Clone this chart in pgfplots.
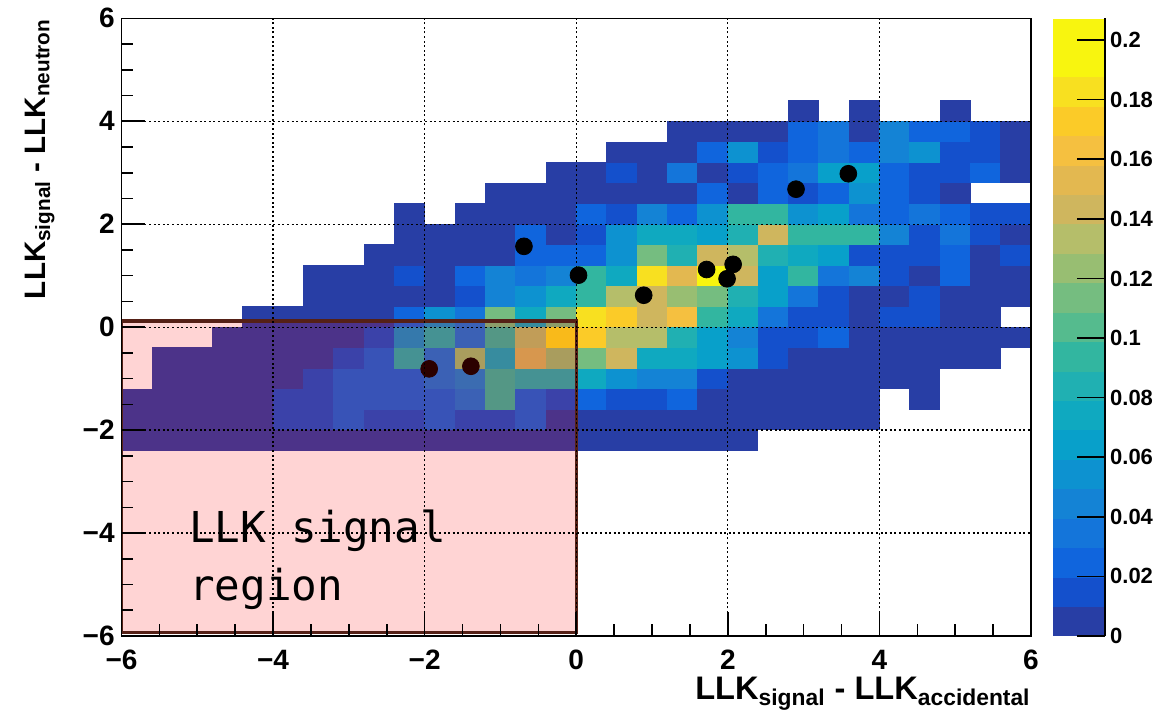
\documentclass[border=0pt]{standalone}
\usepackage{fontspec}
\setmainfont{Liberation Sans}
\newfontfamily\monofont{DejaVu Sans Mono}
\usepackage{pgfplots}
\pgfplotsset{compat=1.18}
\pgfdeclareplotmark{cell}{\pgfpathrectangle{\pgfpoint{-7.73pt}{-5.30pt}}{\pgfpoint{15.46pt}{10.60pt}}\pgfusepathqfill}
\definecolor{boxedge}{RGB}{85,32,22}
\begin{document}
\begin{tikzpicture}
\begin{axis}[
  scale only axis, width=454.75pt, height=308.85pt,
  at={(0,0)}, anchor=south west,
  xmin=-6, xmax=6, ymin=-6, ymax=6,
  clip marker paths=true,
  xtick={-6,-4,-2,0,2,4,6}, ytick={-6,-4,-2,0,2,4,6},
  xticklabels={−6,−4,−2,0,2,4,6}, yticklabels={−6,−4,−2,0,2,4,6},
  minor x tick num=3, minor y tick num=3,
  tick align=inside, tick pos=left,
  major tick length=12pt, minor tick length=6pt,
  tick style={black, line width=0.8pt},
  axis line style={black, line width=0.8pt},
  grid=major,
  major grid style={black, line width=0.6pt, dash pattern=on 1pt off 1.3pt},
  axis on top,
  tick label style={font=\bfseries\fontsize{14}{16}\selectfont, inner sep=0pt},
  xticklabel style={yshift=-7pt},
  yticklabel style={xshift=-3.25pt},
  xlabel={\bfseries\fontsize{16.3}{18}\selectfont LLK\textsubscript{signal} - LLK\textsubscript{accidental}},
  xlabel style={at={(axis description cs:1,0)}, anchor=base east, yshift=-32pt, inner sep=0pt},
  ylabel={\bfseries\fontsize{14.8}{17}\selectfont LLK\textsubscript{signal} - LLK\textsubscript{neutron}},
  ylabel style={at={(axis description cs:-0.0841,1)}, anchor=base east, inner sep=0pt},
  colormap={rootbird}{rgb255=(40,62,165) rgb255=(20,80,204) rgb255=(16,101,221) rgb255=(20,117,218) rgb255=(20,131,213) rgb255=(13,146,208) rgb255=(8,160,202) rgb255=(15,169,192) rgb255=(32,176,178) rgb255=(50,182,160) rgb255=(85,187,142) rgb255=(117,189,128) rgb255=(152,190,114) rgb255=(181,190,106) rgb255=(207,182,94) rgb255=(227,184,80) rgb255=(245,192,64) rgb255=(251,203,40) rgb255=(248,224,32) rgb255=(248,245,15) rgb255=(248,245,15)},
  colormap access=piecewise constant,
  point meta min=0, point meta max=0.2073,
  colorbar right,
  colorbar style={
    at={(parent axis.north east)}, anchor=north west, xshift=2.5pt,
    scale only axis, width=25.85pt, height=308.85pt,
    ytick={0,0.02,0.04,0.06,0.08,0.1,0.12,0.14,0.16,0.18,0.2},
    yticklabels={0,0.02,0.04,0.06,0.08,0.1,0.12,0.14,0.16,0.18,0.2},
    ytick pos=right, yticklabel pos=right, tick align=inside,
    major tick length=13.85pt, minor y tick num=0, grid=none,
    ytick style={black, line width=0.8pt},
    yticklabel style={font=\bfseries\fontsize{11}{13}\selectfont, inner sep=0pt, xshift=2.5pt, anchor=west},
    axis line style={draw=none},
    after end axis/.code={\draw[black, line width=0.8pt] (rel axis cs:1,0) -- (rel axis cs:1,1);},
  },
]
\addplot[scatter, only marks, mark=cell, point meta=explicit,
  scatter/use mapped color={draw=none, fill=mapped color}] coordinates {
(-5.8,-2.2)[0.005] (-5.4,-2.2)[0.005] (-5.0,-2.2)[0.005] (-4.6,-2.2)[0.005] (-4.2,-2.2)[0.005] (-3.8,-2.2)[0.005] (-3.4,-2.2)[0.005] (-3.0,-2.2)[0.005] (-2.6,-2.2)[0.005] (-2.2,-2.2)[0.005] (-1.8,-2.2)[0.005] (-1.4,-2.2)[0.005] (-1.0,-2.2)[0.005] (-0.6,-2.2)[0.005] (-0.2,-2.2)[0.005] (0.2,-2.2)[0.005] (0.6,-2.2)[0.005] (1.0,-2.2)[0.005] (1.4,-2.2)[0.005] (1.8,-2.2)[0.005] (2.2,-2.2)[0.005]
(-5.8,-1.8)[0.005] (-5.4,-1.8)[0.005] (-5.0,-1.8)[0.005] (-4.6,-1.8)[0.005] (-4.2,-1.8)[0.005] (-3.8,-1.8)[0.016] (-3.4,-1.8)[0.016] (-3.0,-1.8)[0.026] (-2.6,-1.8)[0.016] (-2.2,-1.8)[0.016] (-1.8,-1.8)[0.026] (-1.4,-1.8)[0.016] (-1.0,-1.8)[0.016] (-0.6,-1.8)[0.026] (-0.2,-1.8)[0.005] (0.2,-1.8)[0.005] (0.6,-1.8)[0.005] (1.0,-1.8)[0.005] (1.4,-1.8)[0.005] (1.8,-1.8)[0.005] (2.2,-1.8)[0.005] (2.6,-1.8)[0.005] (3.0,-1.8)[0.005] (3.4,-1.8)[0.005] (3.8,-1.8)[0.005]
(-5.8,-1.4)[0.005] (-5.4,-1.4)[0.005] (-5.0,-1.4)[0.005] (-4.6,-1.4)[0.005] (-4.2,-1.4)[0.005] (-3.8,-1.4)[0.016] (-3.4,-1.4)[0.016] (-3.0,-1.4)[0.026] (-2.6,-1.4)[0.026] (-2.2,-1.4)[0.026] (-1.8,-1.4)[0.026] (-1.4,-1.4)[0.036] (-1.0,-1.4)[0.098] (-0.6,-1.4)[0.026] (-0.2,-1.4)[0.016] (0.2,-1.4)[0.026] (0.6,-1.4)[0.016] (1.0,-1.4)[0.016] (1.4,-1.4)[0.026] (1.8,-1.4)[0.005] (2.2,-1.4)[0.005] (2.6,-1.4)[0.005] (3.0,-1.4)[0.005] (3.4,-1.4)[0.005] (3.8,-1.4)[0.005] (4.6,-1.4)[0.005]
(-5.4,-1.0)[0.005] (-5.0,-1.0)[0.005] (-4.6,-1.0)[0.005] (-4.2,-1.0)[0.005] (-3.8,-1.0)[0.005] (-3.4,-1.0)[0.016] (-3.0,-1.0)[0.026] (-2.6,-1.0)[0.026] (-2.2,-1.0)[0.026] (-1.8,-1.0)[0.036] (-1.4,-1.0)[0.047] (-1.0,-1.0)[0.098] (-0.6,-1.0)[0.088] (-0.2,-1.0)[0.088] (0.2,-1.0)[0.078] (0.6,-1.0)[0.057] (1.0,-1.0)[0.047] (1.4,-1.0)[0.047] (1.8,-1.0)[0.016] (2.2,-1.0)[0.005] (2.6,-1.0)[0.005] (3.0,-1.0)[0.005] (3.4,-1.0)[0.005] (3.8,-1.0)[0.005] (4.2,-1.0)[0.005] (4.6,-1.0)[0.005]
(-5.4,-0.6)[0.005] (-5.0,-0.6)[0.005] (-4.6,-0.6)[0.005] (-4.2,-0.6)[0.005] (-3.8,-0.6)[0.005] (-3.4,-0.6)[0.005] (-3.0,-0.6)[0.016] (-2.6,-0.6)[0.026] (-2.2,-0.6)[0.088] (-1.8,-0.6)[0.036] (-1.4,-0.6)[0.119] (-1.0,-0.6)[0.078] (-0.6,-0.6)[0.140] (-0.2,-0.6)[0.119] (0.2,-0.6)[0.109] (0.6,-0.6)[0.140] (1.0,-0.6)[0.078] (1.4,-0.6)[0.078] (1.8,-0.6)[0.067] (2.2,-0.6)[0.057] (2.6,-0.6)[0.016] (3.0,-0.6)[0.005] (3.4,-0.6)[0.005] (3.8,-0.6)[0.005] (4.2,-0.6)[0.005] (4.6,-0.6)[0.005] (5.0,-0.6)[0.005] (5.4,-0.6)[0.005]
(-4.6,-0.2)[0.005] (-4.2,-0.2)[0.005] (-3.8,-0.2)[0.005] (-3.4,-0.2)[0.005] (-3.0,-0.2)[0.005] (-2.6,-0.2)[0.016] (-2.2,-0.2)[0.057] (-1.8,-0.2)[0.088] (-1.4,-0.2)[0.036] (-1.0,-0.2)[0.098] (-0.6,-0.2)[0.130] (-0.2,-0.2)[0.181] (0.2,-0.2)[0.171] (0.6,-0.2)[0.130] (1.0,-0.2)[0.130] (1.4,-0.2)[0.088] (1.8,-0.2)[0.067] (2.2,-0.2)[0.047] (2.6,-0.2)[0.016] (3.0,-0.2)[0.016] (3.4,-0.2)[0.026] (3.8,-0.2)[0.005] (4.2,-0.2)[0.005] (4.6,-0.2)[0.005] (5.0,-0.2)[0.005] (5.4,-0.2)[0.005] (5.8,-0.2)[0.005]
(-4.2,0.2)[0.005] (-3.8,0.2)[0.005] (-3.4,0.2)[0.005] (-3.0,0.2)[0.005] (-2.6,0.2)[0.005] (-2.2,0.2)[0.026] (-1.8,0.2)[0.057] (-1.4,0.2)[0.036] (-1.0,0.2)[0.109] (-0.6,0.2)[0.078] (-0.2,0.2)[0.109] (0.2,0.2)[0.181] (0.6,0.2)[0.171] (1.0,0.2)[0.140] (1.4,0.2)[0.161] (1.8,0.2)[0.098] (2.2,0.2)[0.078] (2.6,0.2)[0.036] (3.0,0.2)[0.016] (3.4,0.2)[0.016] (3.8,0.2)[0.005] (4.2,0.2)[0.016] (4.6,0.2)[0.016] (5.0,0.2)[0.005] (5.4,0.2)[0.005]
(-3.4,0.6)[0.005] (-3.0,0.6)[0.005] (-2.6,0.6)[0.005] (-2.2,0.6)[0.005] (-1.8,0.6)[0.005] (-1.4,0.6)[0.016] (-1.0,0.6)[0.047] (-0.6,0.6)[0.057] (-0.2,0.6)[0.078] (0.2,0.6)[0.098] (0.6,0.6)[0.130] (1.0,0.6)[0.140] (1.4,0.6)[0.119] (1.8,0.6)[0.109] (2.2,0.6)[0.088] (2.6,0.6)[0.067] (3.0,0.6)[0.036] (3.4,0.6)[0.016] (3.8,0.6)[0.005] (4.2,0.6)[0.005] (4.6,0.6)[0.016] (5.0,0.6)[0.005] (5.4,0.6)[0.005] (5.8,0.6)[0.005]
(-3.4,1.0)[0.005] (-3.0,1.0)[0.005] (-2.6,1.0)[0.005] (-2.2,1.0)[0.016] (-1.8,1.0)[0.005] (-1.4,1.0)[0.026] (-1.0,1.0)[0.047] (-0.6,1.0)[0.036] (-0.2,1.0)[0.047] (0.2,1.0)[0.098] (0.6,1.0)[0.078] (1.0,1.0)[0.181] (1.4,1.0)[0.150] (1.8,1.0)[0.202] (2.2,1.0)[0.140] (2.6,1.0)[0.067] (3.0,1.0)[0.098] (3.4,1.0)[0.036] (3.8,1.0)[0.047] (4.2,1.0)[0.016] (4.6,1.0)[0.005] (5.0,1.0)[0.026] (5.4,1.0)[0.005] (5.8,1.0)[0.005]
(-2.6,1.4)[0.005] (-2.2,1.4)[0.005] (-1.8,1.4)[0.005] (-1.4,1.4)[0.005] (-1.0,1.4)[0.005] (-0.6,1.4)[0.026] (-0.2,1.4)[0.026] (0.2,1.4)[0.026] (0.6,1.4)[0.057] (1.0,1.4)[0.109] (1.4,1.4)[0.088] (1.8,1.4)[0.140] (2.2,1.4)[0.130] (2.6,1.4)[0.088] (3.0,1.4)[0.078] (3.4,1.4)[0.067] (3.8,1.4)[0.016] (4.2,1.4)[0.016] (4.6,1.4)[0.016] (5.0,1.4)[0.026] (5.4,1.4)[0.005] (5.8,1.4)[0.016]
(-2.2,1.8)[0.005] (-1.8,1.8)[0.005] (-1.4,1.8)[0.005] (-1.0,1.8)[0.005] (-0.6,1.8)[0.026] (-0.2,1.8)[0.005] (0.2,1.8)[0.016] (0.6,1.8)[0.057] (1.0,1.8)[0.078] (1.4,1.8)[0.078] (1.8,1.8)[0.067] (2.2,1.8)[0.088] (2.6,1.8)[0.140] (3.0,1.8)[0.098] (3.4,1.8)[0.098] (3.8,1.8)[0.098] (4.2,1.8)[0.047] (4.6,1.8)[0.016] (5.0,1.8)[0.036] (5.4,1.8)[0.016] (5.8,1.8)[0.005]
(-2.2,2.2)[0.005] (-1.4,2.2)[0.005] (-1.0,2.2)[0.005] (-0.6,2.2)[0.005] (-0.2,2.2)[0.005] (0.2,2.2)[0.026] (0.6,2.2)[0.016] (1.0,2.2)[0.047] (1.4,2.2)[0.026] (1.8,2.2)[0.057] (2.2,2.2)[0.098] (2.6,2.2)[0.098] (3.0,2.2)[0.057] (3.4,2.2)[0.067] (3.8,2.2)[0.036] (4.2,2.2)[0.026] (4.6,2.2)[0.036] (5.0,2.2)[0.026] (5.4,2.2)[0.016] (5.8,2.2)[0.016]
(-1.0,2.6)[0.005] (-0.6,2.6)[0.005] (-0.2,2.6)[0.005] (0.2,2.6)[0.005] (0.6,2.6)[0.005] (1.0,2.6)[0.005] (1.4,2.6)[0.005] (1.8,2.6)[0.026] (2.2,2.6)[0.005] (2.6,2.6)[0.026] (3.0,2.6)[0.016] (3.4,2.6)[0.026] (3.8,2.6)[0.057] (4.2,2.6)[0.026] (4.6,2.6)[0.016] (5.0,2.6)[0.005]
(-0.2,3.0)[0.005] (0.2,3.0)[0.005] (0.6,3.0)[0.016] (1.0,3.0)[0.005] (1.4,3.0)[0.036] (1.8,3.0)[0.005] (2.2,3.0)[0.016] (2.6,3.0)[0.026] (3.0,3.0)[0.036] (3.4,3.0)[0.067] (3.8,3.0)[0.067] (4.2,3.0)[0.026] (4.6,3.0)[0.016] (5.0,3.0)[0.016] (5.4,3.0)[0.026] (5.8,3.0)[0.005]
(0.6,3.4)[0.005] (1.0,3.4)[0.005] (1.4,3.4)[0.005] (1.8,3.4)[0.026] (2.2,3.4)[0.057] (2.6,3.4)[0.016] (3.0,3.4)[0.026] (3.4,3.4)[0.036] (3.8,3.4)[0.026] (4.2,3.4)[0.047] (4.6,3.4)[0.057] (5.0,3.4)[0.016] (5.4,3.4)[0.016] (5.8,3.4)[0.005]
(1.4,3.8)[0.005] (1.8,3.8)[0.005] (2.2,3.8)[0.005] (2.6,3.8)[0.005] (3.0,3.8)[0.026] (3.4,3.8)[0.036] (3.8,3.8)[0.005] (4.2,3.8)[0.047] (4.6,3.8)[0.026] (5.0,3.8)[0.026] (5.4,3.8)[0.016] (5.8,3.8)[0.005]
(3.0,4.2)[0.005] (3.8,4.2)[0.005] (5.0,4.2)[0.005]
};
\addplot[only marks, mark=*, mark size=4.2pt, black] coordinates {
(-1.94,-0.81) (-1.39,-0.76) (-0.69,1.57) (0.03,1.01) (0.89,0.62) (1.72,1.12) (1.99,0.94) (2.07,1.22) (2.90,2.68) (3.59,2.98)
};
\fill[red, fill opacity=0.17] (axis cs:-6,-5.93) rectangle (axis cs:0,0.12);
\draw[boxedge, line width=1.6pt] (axis cs:-6,-5.93) rectangle (axis cs:0,0.12);
\node[anchor=base west, inner sep=0pt, font=\monofont\fontsize{21.3}{26}\selectfont] at (axis cs:-5.11,-4.19) {LLK signal};
\node[anchor=base west, inner sep=0pt, font=\monofont\fontsize{21.3}{26}\selectfont] at (axis cs:-5.11,-5.31) {region};
\end{axis}
\pgfresetboundingbox
\path (-60.75pt,-37.5pt) rectangle (517.75pt,318pt);
\end{tikzpicture}
\end{document}
